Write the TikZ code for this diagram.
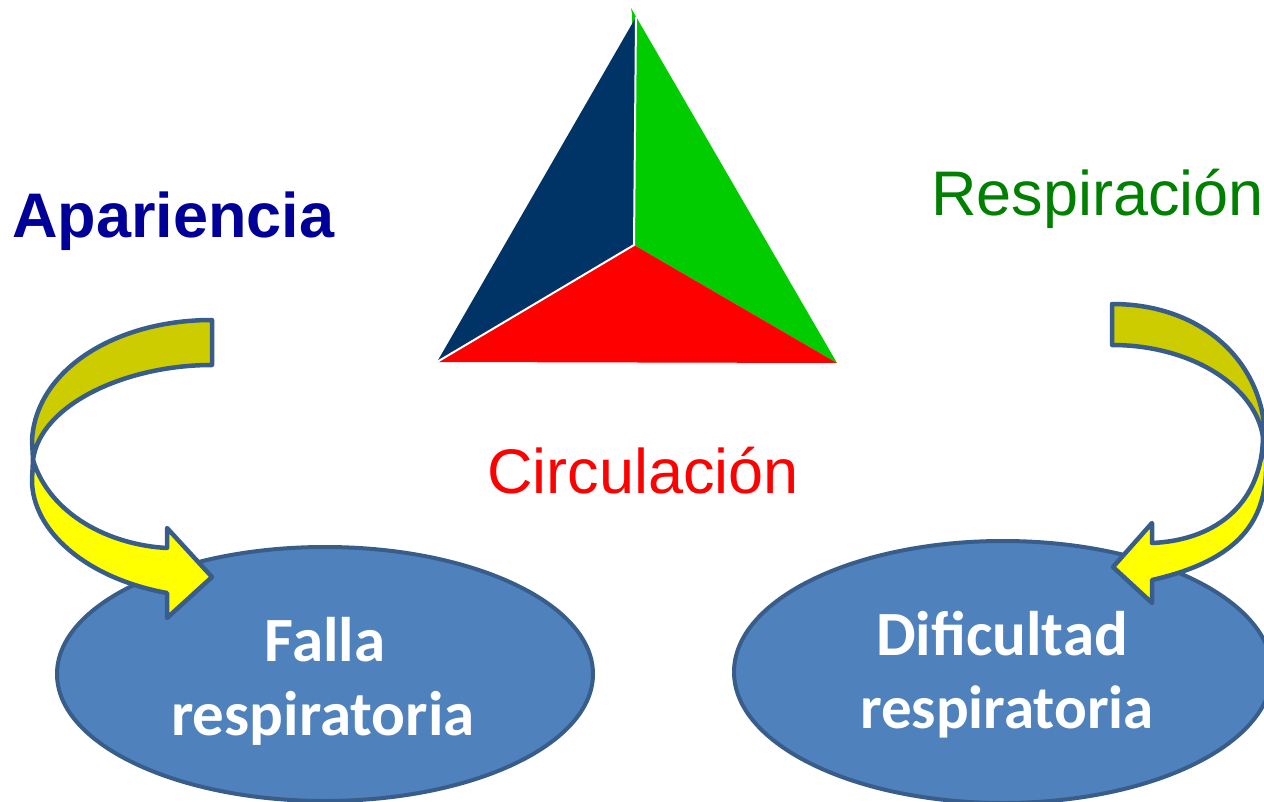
\documentclass[tikz,border=0pt]{standalone}
\usepackage{fontspec}
\setmainfont{Liberation Sans}
\newfontfamily\calib{Carlito}
\usetikzlibrary{shapes.geometric}
\definecolor{navy}{RGB}{0,51,102}
\definecolor{tgreen}{RGB}{0,204,0}
\definecolor{tred}{RGB}{255,0,0}
\definecolor{apblue}{RGB}{0,0,153}
\definecolor{respgreen}{RGB}{0,128,0}
\definecolor{ellfill}{RGB}{79,129,189}
\definecolor{ellline}{RGB}{56,93,138}
\definecolor{darkyel}{RGB}{204,204,0}
\definecolor{brightyel}{RGB}{255,255,0}
\tikzset{
  ellbox/.style={ellipse, fill=ellfill, draw=ellline, line width=4pt, inner sep=0pt},
  arrowpart/.style={draw=ellline, line width=4.5pt, line join=round},
  bigtext/.style={inner sep=0pt, font=\fontsize{63}{74}\selectfont},
  elltext/.style={inner sep=0pt, anchor=base, text=white, font=\calib\bfseries\fontsize{63}{74}\selectfont},
}
\begin{document}
\begin{tikzpicture}[x=1pt,y=-1pt]
\useasboundingbox (0,0) rectangle (1264,802);
% triangle
\coordinate (apex) at (636,17);
\coordinate (ctr) at (634,245);
\coordinate (bl) at (437,362);
\coordinate (br) at (837,363);
\fill[tgreen] (631,8) -- (br) -- (ctr) -- (632,14) -- cycle;
\fill[navy] (apex) -- (ctr) -- (bl) -- cycle;
\fill[tred] (bl) -- (ctr) -- (br) -- cycle;
\draw[white, line width=2pt] (apex) -- (ctr) -- (bl);
% labels
\node[bigtext, anchor=base west, text=apblue, font=\bfseries\fontsize{63}{74}\selectfont] (apariencia) at (12,238) {Apariencia};
\node[bigtext, anchor=base west, text=respgreen] (respiracion) at (931,216) {Respiración};
\node[bigtext, anchor=base west, text=tred] (circulacion) at (487,493) {Circulación};
% ellipses
\node[ellbox, minimum width=536pt, minimum height=254pt] (falla) at (325,674) {};
\node[ellbox, minimum width=538pt, minimum height=262pt] (dificultad) at (1003,672) {};
\node[elltext] (t1) at (325,661) {Falla};
\node[elltext] (t2) at (323,735) {respiratoria};
\node[elltext] (t3) at (1002,655) {Dificultad};
\node[elltext, font=\calib\bfseries\fontsize{61}{72}\selectfont] (t4) at (1007,728) {respiratoria};
% left curved arrow
\filldraw[arrowpart, fill=darkyel] (212,320) -- (212,365) .. controls (125,365) and (40,405) .. (33,460) -- (32,440) .. controls (36,370) and (115,320) .. (212,320) -- cycle;
\filldraw[arrowpart, fill=brightyel] (33,460) .. controls (50,515) and (110,545) .. (167,548) -- (167,528) -- (212,577) -- (167,618) -- (167,593) .. controls (85,578) and (32,530) .. (32,480) -- cycle;
% right curved arrow
\filldraw[arrowpart, fill=darkyel] (1112,304) -- (1112,345) .. controls (1190,345) and (1255,385) .. (1263,437) -- (1265,440) .. controls (1265,365) and (1205,304) .. (1112,304) -- cycle;
\filldraw[arrowpart, fill=brightyel] (1263,437) .. controls (1262,500) and (1220,540) .. (1152,543) -- (1152,523) -- (1113,567) -- (1152,603) -- (1152,580) .. controls (1240,560) and (1268,520) .. (1266,460) -- cycle;
\end{tikzpicture}
\end{document}
